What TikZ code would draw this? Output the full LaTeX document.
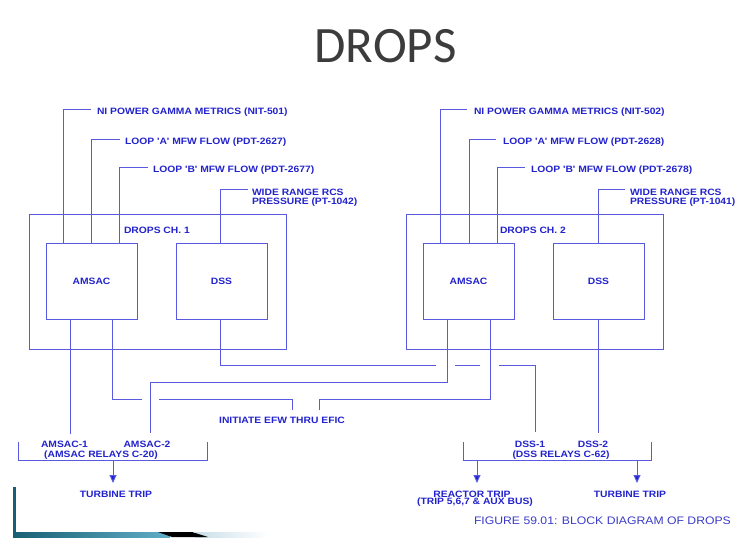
\documentclass[tikz,border=0pt]{standalone}
\usepackage{fontspec}
\usetikzlibrary{arrows.meta,calc}
\newfontfamily\labfont[FakeStretch=1.12]{Liberation Sans}
\newfontfamily\titlefont{Carlito}
\definecolor{lineblue}{RGB}{90,90,225}
\definecolor{textblue}{RGB}{35,35,205}
\definecolor{capblue}{RGB}{60,60,200}
\definecolor{titlegray}{RGB}{60,60,60}
\definecolor{decoA}{RGB}{25,95,115}
\definecolor{decoB}{RGB}{95,175,200}
\definecolor{decoC}{RGB}{200,222,232}
\begin{document}
\begin{tikzpicture}[x=1pt,y=-1pt,
  wire/.style={draw=lineblue,line width=1pt},
  blk/.style={draw=lineblue,line width=1pt,inner sep=0pt,outer sep=0pt,text=textblue,
    font=\labfont\bfseries\fontsize{9.2}{10}\selectfont},
  lbl/.style={inner sep=0pt,outer sep=0pt,text=textblue,
    font=\labfont\bfseries\fontsize{9.2}{10}\selectfont},
  arr/.style={wire,-{Triangle[length=8pt,width=7pt,fill=textblue]}}]
\useasboundingbox (0,0) rectangle (746,548);
\fill[white] (0,0) rectangle (746,548);

% title
\node[font=\titlefont\fontsize{51}{51}\selectfont,text=titlegray,anchor=base,inner sep=0pt] (title) at (385.5,63) {DROPS};

% channel boxes
\node[blk,minimum width=257pt,minimum height=135pt] (ch1) at (157.5,281.5) {};
\node[blk,minimum width=91pt,minimum height=76pt] (am1) at (91.5,281) {AMSAC};
\node[blk,minimum width=91pt,minimum height=76pt] (dss1) at (221.5,281) {DSS};
\node[lbl,anchor=west] (ch1l) at (124,230) {DROPS CH. 1};

\node[blk,minimum width=257pt,minimum height=135pt] (ch2) at (534.5,281.5) {};
\node[blk,minimum width=91pt,minimum height=76pt] (am2) at (468.5,281) {AMSAC};
\node[blk,minimum width=91pt,minimum height=76pt] (dss2) at (598.5,281) {DSS};
\node[lbl,anchor=west] (ch2l) at (500,230) {DROPS CH. 2};

% input labels
\node[lbl,anchor=west] (ni1) at (97,112.5) {NI POWER GAMMA METRICS (NIT-501)};
\node[lbl,anchor=west] (la1) at (125,142.5) {LOOP 'A' MFW FLOW (PDT-2627)};
\node[lbl,anchor=west] (lb1) at (153,170.5) {LOOP 'B' MFW FLOW (PDT-2677)};
\node[lbl,anchor=west] (wr1a) at (252,192) {WIDE RANGE RCS};
\node[lbl,anchor=west] (wr1b) at (252,202) {PRESSURE (PT-1042)};

\node[lbl,anchor=west] (ni2) at (474,112.5) {NI POWER GAMMA METRICS (NIT-502)};
\node[lbl,anchor=west] (la2) at (503,142.5) {LOOP 'A' MFW FLOW (PDT-2628)};
\node[lbl,anchor=west] (lb2) at (531,170.5) {LOOP 'B' MFW FLOW (PDT-2678)};
\node[lbl,anchor=west] (wr2a) at (630,192) {WIDE RANGE RCS};
\node[lbl,anchor=west] (wr2b) at (630,202) {PRESSURE (PT-1041)};

% input wires
\draw[wire] ([shift={(-6pt,2.5pt)}]ni1.west) -| ([xshift=17pt]am1.north west);
\draw[wire] ([shift={(-5pt,2.5pt)}]la1.west) -| ([xshift=45pt]am1.north west);
\draw[wire] ([shift={(-5pt,2.5pt)}]lb1.west) -| ([xshift=73pt]am1.north west);
\draw[wire] ([shift={(-4pt,3pt)}]wr1a.west) -| ([xshift=44pt]dss1.north west);

\draw[wire] ([shift={(-7pt,2.5pt)}]ni2.west) -| ([xshift=17pt]am2.north west);
\draw[wire] ([shift={(-7pt,2.5pt)}]la2.west) -| ([xshift=46pt]am2.north west);
\draw[wire] ([shift={(-6pt,2.5pt)}]lb2.west) -| ([xshift=74pt]am2.north west);
\draw[wire] ([shift={(-5pt,3pt)}]wr2a.west) -| ([xshift=45pt]dss2.north west);

% lower labels
\node[lbl] (ini) at (282,420) {INITIATE EFW THRU EFIC};
\node[lbl] (a1) at (64.5,444) {AMSAC-1};
\node[lbl] (a2) at (147,444) {AMSAC-2};
\node[lbl] (r1) at (101,455) {(AMSAC RELAYS C-20)};
\node[lbl] (tt1) at (116,494) {TURBINE TRIP};
\node[lbl] (d1) at (530,444) {DSS-1};
\node[lbl] (d2) at (593,444) {DSS-2};
\node[lbl] (r2) at (561,455) {(DSS RELAYS C-62)};
\node[lbl] (rt) at (472,494) {REACTOR TRIP};
\node[lbl] (rtb) at (475,502.5) {(TRIP 5,6,7 \& AUX BUS)};
\node[lbl] (tt2) at (630,494) {TURBINE TRIP};
\node[lbl,font=\labfont\fontsize{10.9}{12}\selectfont,text=capblue,anchor=west] (cap) at (474,521) {FIGURE 59.01: BLOCK DIAGRAM OF DROPS};

% output wires
\coordinate (o1) at ([xshift=24pt]am1.south west);
\coordinate (o2) at ([xshift=66pt]am1.south west);
\coordinate (o3) at ([xshift=24pt]am2.south west);
\coordinate (o4) at ([xshift=67pt]am2.south west);
\coordinate (o5) at ([xshift=44pt]dss1.south west);
\coordinate (o6) at ([xshift=45pt]dss2.south west);
\coordinate (iA) at (292,410);
\coordinate (iB) at (319,410);

\draw[wire] (o1) -- (70,434);
\draw[wire] (o2) |- (142,399);
\draw[wire] (159,399) -| (iA);
\draw[wire] (o4) |- (319,399) -- (iB);
\draw[wire] (o3) |- (150,382) -- (150,433);
\draw[wire] (o5) |- (436,365);
\draw[wire] (455,365) -- (480,365);
\draw[wire] (499,365) -| (535,432);
\draw[wire] (o6) -- (598,433);

% relay brackets and arrows
\draw[wire] (18,442) |- (207,460) -- (207,442);
\draw[arr] (113,460) -- (113,483);
\draw[wire] (463,442) |- (651,460) -- (651,442);
\draw[arr] (477,460) -- (477,483);
\draw[arr] (637,460) -- (637,483);

% decoration bottom-left
\fill[decoA] (13,487) rectangle (15.5,537);
\shade[left color=decoA,right color=decoB] (13,532) rectangle (170,537);
\shade[left color=decoC,right color=white] (195,532) rectangle (268,537);
\fill[black] (158,532) -- (192,532) -- (208,537) -- (172,537) -- cycle;
\end{tikzpicture}
\end{document}
